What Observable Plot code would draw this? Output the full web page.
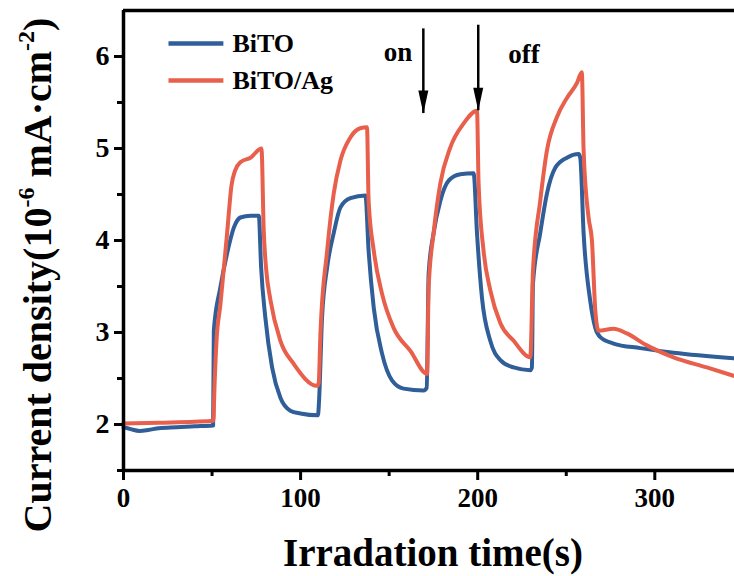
<!DOCTYPE html>
<html><head><meta charset="utf-8">
<script src="https://cdn.jsdelivr.net/npm/d3@7"></script>
<script src="https://cdn.jsdelivr.net/npm/@observablehq/plot@0.6"></script>
<style>body{margin:0;background:#fff} #chart svg{display:block}</style>
</head><body><div id="chart"></div>
<script>
// ---- data ----
const bitoTime  = [0,4,9,14,20,30,40,50.6, 51,54.7,58.5,62.3,66,71.7,76.4, 77.7,80.1,83.9,88.6,94.2,99.9,109.8,
  110.4,112.1,115,118.7,122.5,128.1,136.6, 138.4,141.3,146,151.6,158.2,169.5,171.2,
  172.3,175.1,178.9,183.6,190.2,197.7, 199.6,202.4,207.1,212.8,220.3,229.7,230.6,
  231.2,235.3,239.1,243.8,250.4,257,257.9, 259.8,263.5,266.4,269.2,276.7,291.8,310.6,344.4];
const bitoValue = [1.97,1.95,1.93,1.94,1.96,1.97,1.98,1.99, 3.02,3.49,3.86,4.14,4.25,4.27,4.27, 3.71,3.16,2.62,2.29,2.15,2.12,2.10,
  2.25,3.16,3.71,4.08,4.36,4.46,4.49, 3.89,3.27,2.77,2.48,2.39,2.37,2.40,
  3.64,4.08,4.43,4.65,4.72,4.73, 4.08,3.38,2.91,2.70,2.62,2.59,2.62,
  3.53,4.08,4.51,4.79,4.90,4.94,4.90, 4.08,3.35,3.05,2.95,2.88,2.83,2.78,2.72];
const agTime  = [0,20,40,50.8, 51.2,52.5,54.7,58.5,61,63,66,71.7,77.9, 79.2,80.5,83,88.6,96.1,109.3,110.2,
  111.2,115,118.7,122.5,128.1,133.7,137.5, 138.4,141.3,146,152.5,162,171.4,
  172.3,175.1,178.9,184.5,192,199.6, 200.5,203.3,207.1,212.8,220.3,229.7,
  231.2,235.3,239.1,244.7,250.4,256,258.8, 259.8,262.6,264.5,266.4,268.2,276.7,284.2,295.5,310.6,329.4,344.4];
const agValue = [2.01,2.02,2.03,2.04, 2.3,2.9,3.3,4.08,4.6,4.76,4.85,4.90,5.00, 4.10,3.70,3.35,2.91,2.66,2.42,2.45,
  2.99,3.89,4.51,4.87,5.12,5.22,5.23, 4.43,3.89,3.42,3.05,2.80,2.55,
  3.49,4.08,4.62,5.01,5.27,5.41, 4.62,3.89,3.46,3.10,2.91,2.73,
  3.67,4.43,4.98,5.34,5.55,5.71,5.83, 4.98,4.25,4.00,3.24,3.02,3.04,2.99,2.86,2.73,2.62,2.53];
const seriesNames  = ["BiTO", "BiTO/Ag"];
const seriesColors = ["#2f5e98", "#e8604c"];
const xTicks = [0, 100, 200, 300];
const xMinorTicks = [50, 150, 250];
const yTicks = [2, 3, 4, 5, 6];
const yMinorTicks = [1.5, 2.5, 3.5, 4.5, 5.5];
const markerLabels = ["on", "off"];
const markerTimes  = [169.3, 200.3];
const markerTop    = [6.30, 6.34];
const markerTip    = [5.38, 5.41];
const xTitle = "Irradation time(s)";

// ---- tables ----
const rows = [
  ...bitoTime.map((t, i) => ({series: seriesNames[0], t, v: bitoValue[i]})),
  ...agTime.map((t, i) => ({series: seriesNames[1], t, v: agValue[i]}))
];
const markers = markerLabels.map((label, i) => ({label, t: markerTimes[i], top: markerTop[i], tip: markerTip[i]}));
const legend = seriesNames.map((name, i) => ({name, row: i}));
const legendY = d => 6.14 - d.row * 0.40;

const headShape = {draw(c, l) { c.moveTo(-5, 0); c.lineTo(0, -l); c.lineTo(5, 0); c.closePath(); }};
const font = "'Liberation Serif','Times New Roman',serif";

const plot = Plot.plot({
  width: 734, height: 576,
  marginLeft: 123, marginRight: 0, marginTop: 10, marginBottom: 106,
  style: {fontFamily: font, fontWeight: "bold", background: "white", color: "black"},
  x: {domain: [0, 345]},
  y: {domain: [1.5, 6.5]},
  color: {domain: seriesNames, range: seriesColors},
  marks: [
    Plot.line(rows, {x: "t", y: "v", z: "series", stroke: "series", strokeWidth: 4, strokeLinejoin: "round", curve: "monotone-x"}),
    Plot.ruleX([0], {stroke: "black", strokeWidth: 3.5}),
    Plot.ruleY([1.5], {stroke: "black", strokeWidth: 3.5}),
    Plot.ruleY([6.5], {stroke: "black", strokeWidth: 3.5}),
    Plot.axisX(xTicks, {tickSize: 10, tickPadding: 7, fontSize: 27, strokeWidth: 3, label: null, tickFormat: d => String(d)}),
    Plot.axisX(xMinorTicks, {tickSize: 6, text: null, strokeWidth: 3, label: null}),
    Plot.axisY(yTicks, {tickSize: 9, tickPadding: 5, fontSize: 28, strokeWidth: 3, label: null, tickFormat: d => String(d)}),
    Plot.axisY(yMinorTicks, {tickSize: 6, text: null, strokeWidth: 3, label: null}),
    // legend
    Plot.link(legend, {x1: 25.4, x2: 56.4, y1: legendY, y2: legendY, stroke: "name", strokeWidth: 4.5}),
    Plot.text(legend, {x: 61.5, y: legendY, text: "name", textAnchor: "start", lineAnchor: "middle", fontSize: 26, fill: "black"}),
    // on/off arrows
    Plot.ruleX(markers, {x: "t", y1: "top", y2: "tip", stroke: "black", strokeWidth: 2.5}),
    Plot.vector(markers, {x: "t", y: "tip", length: 23, rotate: 180, anchor: "end", shape: headShape, fill: "black", stroke: "none"}),
    Plot.text(markers.filter(d => d.label === "on"), {x: "t", y: 5.95, text: "label", textAnchor: "end", lineAnchor: "bottom", dx: -11, fontSize: 27, fill: "black"}),
    Plot.text(markers.filter(d => d.label === "off"), {x: "t", y: 5.93, text: "label", textAnchor: "start", lineAnchor: "bottom", dx: 30, fontSize: 27, fill: "black"}),
    // x title
    Plot.text([xTitle], {frameAnchor: "bottom", dy: 95, dx: 4, lineAnchor: "bottom", fontSize: 39, fill: "black"})
  ]
});
document.getElementById("chart").append(plot);

// y title with superscripts
const yt = d3.select(plot).append("text")
  .attr("transform", "translate(51,275) rotate(-90)")
  .attr("text-anchor", "middle")
  .style("font-family", font).style("font-weight", "bold").style("font-size", "40px").attr("fill", "black");
yt.append("tspan").text("Current density(10");
yt.append("tspan").attr("dy", -17).style("font-size", "24px").text("-6");
yt.append("tspan").attr("dy", 17).text(" mA·cm");
yt.append("tspan").attr("dy", -17).style("font-size", "24px").text("-2");
yt.append("tspan").attr("dy", 17).text(")");
</script>
</body></html>
